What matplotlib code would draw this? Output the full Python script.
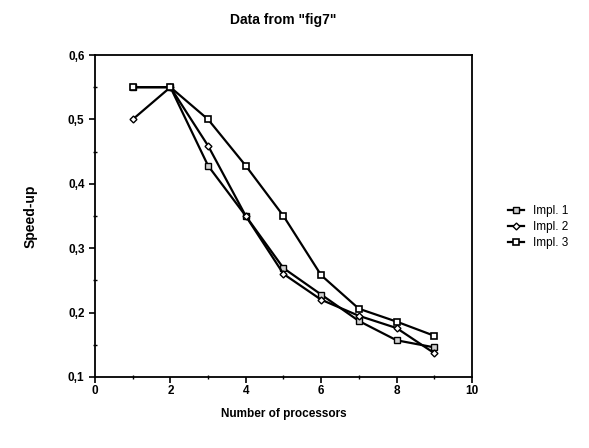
import numpy as np
import matplotlib.pyplot as plt
from matplotlib.ticker import MultipleLocator, FuncFormatter

plt.rcParams['font.family'] = ['Liberation Sans', 'DejaVu Sans']

# data
procs = [1, 2, 3, 4, 5, 6, 7, 8, 9]
impl1 = [0.55, 0.55, 0.428, 0.35, 0.269, 0.228, 0.187, 0.157, 0.146]
impl2 = [0.50, 0.55, 0.459, 0.35, 0.260, 0.220, 0.195, 0.176, 0.137]
impl3 = [0.55, 0.55, 0.500, 0.428, 0.350, 0.258, 0.206, 0.186, 0.164]

fig = plt.figure(figsize=(5.89, 4.48), dpi=100)
ax = fig.add_axes([0.1613, 0.1585, 0.640, 0.7187])

ax.plot(procs, impl1, color='black', lw=1.6, marker='s', ms=4.5,
        mfc='#d0d0d0', mec='black', mew=1.0, label='Impl. 1')
ax.plot(procs, impl2, color='black', lw=1.6, marker='D', ms=3.5,
        mfc='white', mec='black', mew=1.0, label='Impl. 2')
ax.plot(procs, impl3, color='black', lw=1.6, marker='s', ms=4.5,
        mfc='white', mec='black', mew=1.2, label='Impl. 3')

ax.set_xlim(0, 10)
ax.set_ylim(0.1, 0.6)
ax.xaxis.set_major_locator(MultipleLocator(2))
ax.xaxis.set_minor_locator(MultipleLocator(1))
ax.yaxis.set_major_locator(MultipleLocator(0.1))
ax.yaxis.set_minor_locator(MultipleLocator(0.05))
ax.yaxis.set_major_formatter(FuncFormatter(lambda v, p: ('%.1f' % v).replace('.', ',')))
ax.tick_params(which='major', direction='out', length=4, width=1.2, labelsize=8.5)
ax.tick_params(axis='x', which='major', pad=2)
ax.tick_params(which='minor', direction='inout', length=3, width=1)
for lab in ax.get_xticklabels() + ax.get_yticklabels():
    lab.set_fontweight('bold')
for s in ax.spines.values():
    s.set_linewidth(1.3)

ax.set_title('Data from "fig7"', fontsize=10, fontweight='bold', pad=22)
ax.set_xlabel('Number of processors', fontsize=8.5, fontweight='bold', labelpad=8)
ax.set_ylabel('Speed-up', fontsize=10, fontweight='bold', labelpad=22)

fig.legend(loc='center left', bbox_to_anchor=(0.845, 0.493), frameon=False,
           fontsize=8.5, handlelength=1.3, handletextpad=0.8, labelspacing=0.35)

plt.savefig('out.png', dpi=100)
